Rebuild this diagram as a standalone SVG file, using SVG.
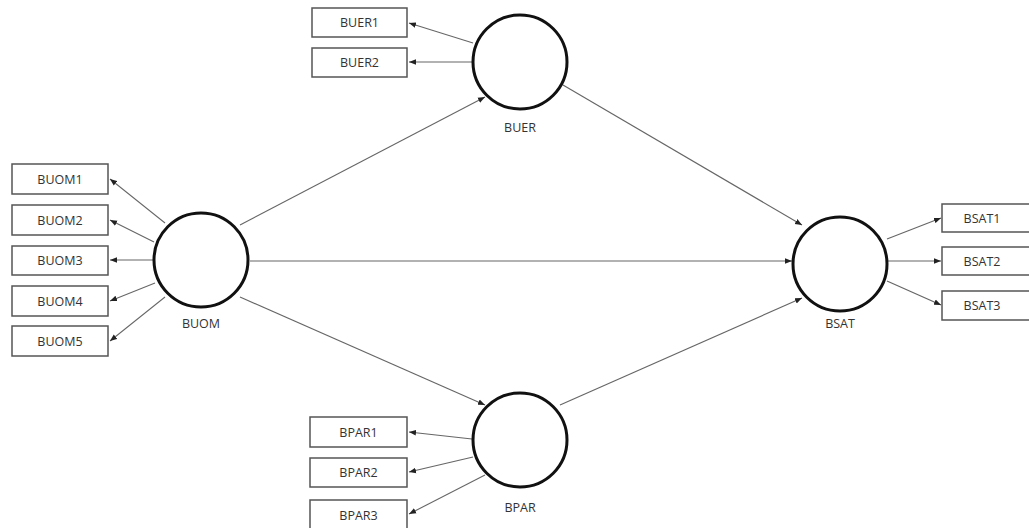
<svg xmlns="http://www.w3.org/2000/svg" width="1029" height="528" viewBox="0 0 1029 528">
  <style>
    .lv circle { fill: #fff; stroke: #111; stroke-width: 3; }
    .mv rect { fill: #fff; stroke: #555; stroke-width: 1.5; }
    text { font-family: "Open Sans", "Liberation Sans", sans-serif; font-size: 12.5px; fill: #333; text-anchor: middle; }
    .edge { stroke: #666; stroke-width: 1.1; fill: none; marker-end: url(#arr); }
  </style>
  <defs>
    <marker id="arr" viewBox="0 0 10 10" refX="10" refY="5" markerWidth="7" markerHeight="7" markerUnits="userSpaceOnUse" orient="auto">
      <path d="M0,1 L10,5 L0,9 z" fill="#222"/>
    </marker>
  </defs>
  <rect width="1029" height="528" fill="#fff"/>

  <g id="connectors">
    <!-- structural paths -->
    <line class="edge" x1="240" y1="225" x2="485" y2="97"/>
    <line class="edge" x1="250" y1="261" x2="792" y2="261"/>
    <line class="edge" x1="240" y1="297" x2="485" y2="405"/>
    <line class="edge" x1="563" y1="85" x2="802" y2="225"/>
    <line class="edge" x1="560" y1="405" x2="802" y2="298"/>
    <!-- BUER indicators -->
    <line class="edge" x1="473" y1="43" x2="409" y2="23"/>
    <line class="edge" x1="472" y1="62" x2="409" y2="62"/>
    <!-- BUOM indicators -->
    <line class="edge" x1="165" y1="223" x2="110" y2="179"/>
    <line class="edge" x1="154" y1="242" x2="110" y2="220"/>
    <line class="edge" x1="153" y1="260" x2="110" y2="260"/>
    <line class="edge" x1="155" y1="283" x2="110" y2="301"/>
    <line class="edge" x1="165" y1="297" x2="110" y2="341"/>
    <!-- BPAR indicators -->
    <line class="edge" x1="472" y1="439" x2="409" y2="432"/>
    <line class="edge" x1="473" y1="457" x2="409" y2="472"/>
    <line class="edge" x1="485" y1="475" x2="409" y2="514"/>
    <!-- BSAT indicators -->
    <line class="edge" x1="887" y1="239" x2="941" y2="218"/>
    <line class="edge" x1="888" y1="261" x2="941" y2="261"/>
    <line class="edge" x1="887" y1="281" x2="941" y2="305"/>
  </g>

  <g id="BUER" class="lv">
    <circle cx="520" cy="62" r="47"/>
    <text x="520" y="132">BUER</text>
  </g>
  <g id="BUOM" class="lv">
    <circle cx="201" cy="260" r="47"/>
    <text x="201" y="328">BUOM</text>
  </g>
  <g id="BPAR" class="lv">
    <circle cx="520" cy="440" r="47"/>
    <text x="520" y="512">BPAR</text>
  </g>
  <g id="BSAT" class="lv">
    <circle cx="840" cy="264" r="47"/>
    <text x="840" y="328">BSAT</text>
  </g>

  <g id="BUER1" class="mv"><rect x="312" y="8" width="95" height="29"/><text x="359.5" y="27">BUER1</text></g>
  <g id="BUER2" class="mv"><rect x="312" y="48" width="95" height="29"/><text x="359.5" y="67">BUER2</text></g>

  <g id="BUOM1" class="mv"><rect x="12" y="164" width="96" height="30"/><text x="60" y="183.5">BUOM1</text></g>
  <g id="BUOM2" class="mv"><rect x="12" y="205" width="96" height="30"/><text x="60" y="224.5">BUOM2</text></g>
  <g id="BUOM3" class="mv"><rect x="12" y="246" width="96" height="29"/><text x="60" y="265">BUOM3</text></g>
  <g id="BUOM4" class="mv"><rect x="12" y="286" width="96" height="30"/><text x="60" y="305.5">BUOM4</text></g>
  <g id="BUOM5" class="mv"><rect x="12" y="326" width="96" height="30"/><text x="60" y="345.5">BUOM5</text></g>

  <g id="BPAR1" class="mv"><rect x="310" y="417" width="97" height="30"/><text x="358.5" y="436.5">BPAR1</text></g>
  <g id="BPAR2" class="mv"><rect x="310" y="458" width="97" height="29"/><text x="358.5" y="477">BPAR2</text></g>
  <g id="BPAR3" class="mv"><rect x="310" y="500" width="97" height="30"/><text x="358.5" y="519.5">BPAR3</text></g>

  <g id="BSAT1" class="mv"><rect x="942" y="204" width="92" height="28"/><text x="982" y="222.5">BSAT1</text></g>
  <g id="BSAT2" class="mv"><rect x="942" y="247" width="92" height="28"/><text x="982" y="265.5">BSAT2</text></g>
  <g id="BSAT3" class="mv"><rect x="942" y="291" width="92" height="29"/><text x="982" y="310">BSAT3</text></g>
</svg>
